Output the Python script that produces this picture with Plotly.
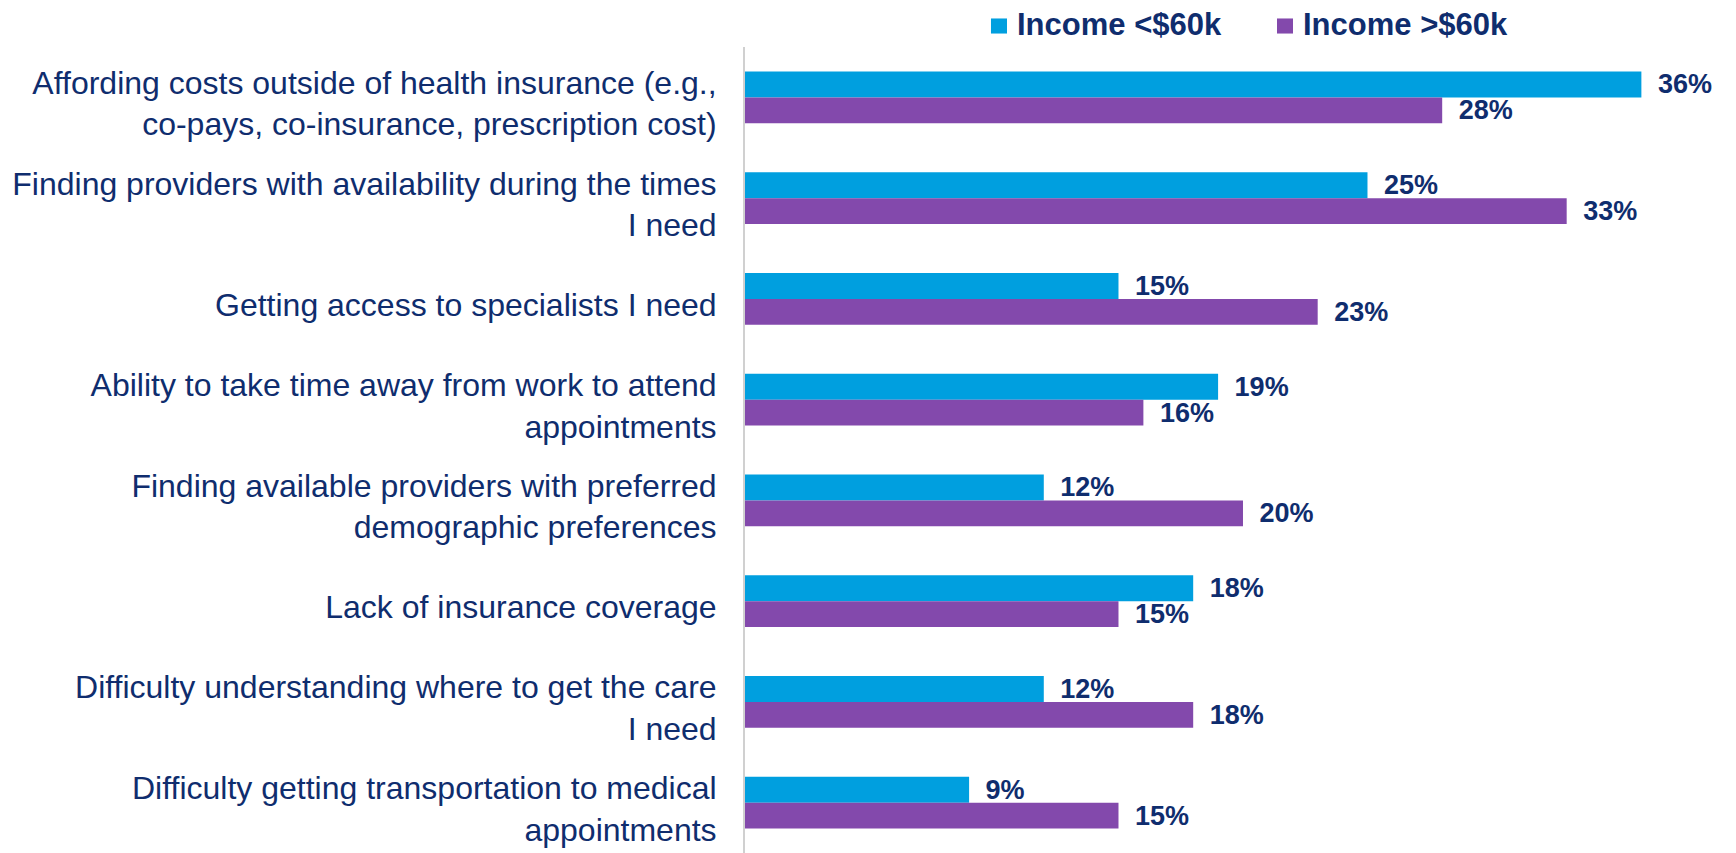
import plotly.graph_objects as go

NAVY = "#0F2D6E"
COLOR_MAP = {
    "BLUE": "#009FDF",
    "PURPLE": "#8349AC",
}

categories = [
    "Affording costs outside of health insurance (e.g.,<br>co-pays, co-insurance, prescription cost)",
    "Finding providers with availability during the times<br>I need",
    "Getting access to specialists I need",
    "Ability to take time away from work to attend<br>appointments",
    "Finding available providers with preferred<br>demographic preferences",
    "Lack of insurance coverage",
    "Difficulty understanding where to get the care<br>I need",
    "Difficulty getting transportation to medical<br>appointments",
]
income_low = [36, 25, 15, 19, 12, 18, 12, 9]
income_high = [28, 33, 23, 16, 20, 15, 18, 15]
series_names = ["Income <$60k", "Income >$60k"]
series_colors = [COLOR_MAP["BLUE"], COLOR_MAP["PURPLE"]]

fig = go.Figure()
for name, values, color in zip(series_names, [income_low, income_high], series_colors):
    fig.add_trace(
        go.Bar(
            y=categories,
            x=values,
            name=name,
            orientation="h",
            marker=dict(color=color, line=dict(width=0)),
            text=values,
            texttemplate="\u2002%{x}%",
            textposition="outside",
            constraintext="none",
            cliponaxis=False,
            textfont=dict(family="Arial, Liberation Sans", size=27, color=NAVY, weight="bold"),
        )
    )

# legend drawn by hand (plotly's legend pushes the top margin and leaves a wide gap)
legend_x = [0.2482, 0.5368]
for name, color, x0 in zip(series_names, series_colors, legend_x):
    fig.add_shape(
        type="rect",
        xref="paper",
        yref="paper",
        x0=x0,
        x1=x0 + 0.0162,
        y0=1.0167,
        y1=1.0354,
        fillcolor=color,
        line=dict(width=0),
    )
    fig.add_annotation(
        text=name,
        xref="paper",
        yref="paper",
        x=x0 + 0.0243,
        y=1.0273,
        xanchor="left",
        yanchor="middle",
        showarrow=False,
        font=dict(size=31, color=NAVY, weight="bold"),
    )

# the page body has an 8px margin, so the plot area is moved up/left by 8px
fig.update_layout(
    width=1736,
    height=853,
    margin=dict(l=737, r=8, t=39, b=8),
    paper_bgcolor="white",
    plot_bgcolor="white",
    barmode="group",
    bargap=0.484,
    bargroupgap=0,
    font=dict(family="Arial, Liberation Sans", color=NAVY),
    showlegend=False,
    xaxis=dict(
        range=[0, 39.8],
        visible=False,
        showgrid=False,
        zeroline=False,
    ),
    yaxis=dict(
        autorange="reversed",
        showline=True,
        linecolor="#D0D0D0",
        linewidth=2,
        showgrid=False,
        ticks="",
        ticklabelstandoff=20,
        ticklabelshift=-6,
        tickfont=dict(size=32, color=NAVY),
        automargin=False,
    ),
)

fig.write_html("out.html")
